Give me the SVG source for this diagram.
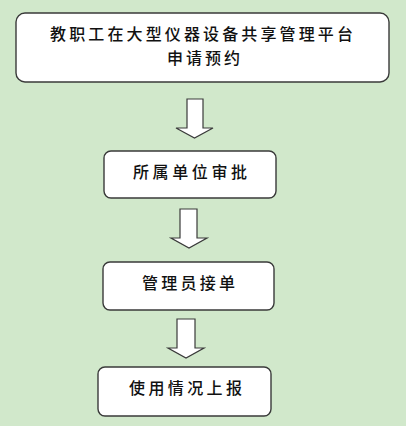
<svg xmlns="http://www.w3.org/2000/svg" width="406" height="426" viewBox="0 0 406 426">
<style>
.box{fill:#ffffff;stroke:#3a3a3a;stroke-width:1.4}
.arr{fill:#ffffff;stroke:#3a3a3a;stroke-width:1.2;stroke-linejoin:miter}
text{font-family:"Noto Sans CJK SC","Noto Sans CJK JP",sans-serif;font-size:16px;font-weight:500;fill:#111111}
</style>
<rect x="0" y="0" width="406" height="426" fill="#D1E8CB"/>
<g id="connectors">
<polygon class="arr" points="187,99 203,99 203,128 213,128 194.5,138 176,128 187,128"/>
<polygon class="arr" points="180,209 197,209 197,238 207,238 189,248 171,238 180,238"/>
<polygon class="arr" points="177,319 195,319 195,348 204,348 186,358 168,348 177,348"/>
</g>
<g id="node1">
<rect class="box" x="16" y="13" width="373" height="69" rx="9"/>
<text x="50" y="40" textLength="303" lengthAdjust="spacing">教职工在大型仪器设备共享管理平台</text>
<text x="167" y="64" textLength="73" lengthAdjust="spacing">申请预约</text>
</g>
<g id="node2">
<rect class="box" x="104" y="151" width="172" height="47" rx="7"/>
<text x="133" y="178" textLength="114" lengthAdjust="spacing">所属单位审批</text>
</g>
<g id="node3">
<rect class="box" x="103" y="262" width="171" height="48" rx="7"/>
<text x="142" y="289" textLength="93" lengthAdjust="spacing">管理员接单</text>
</g>
<g id="node4">
<rect class="box" x="98" y="367" width="173" height="49" rx="7"/>
<text x="129" y="394" textLength="113" lengthAdjust="spacing">使用情况上报</text>
</g>
</svg>
